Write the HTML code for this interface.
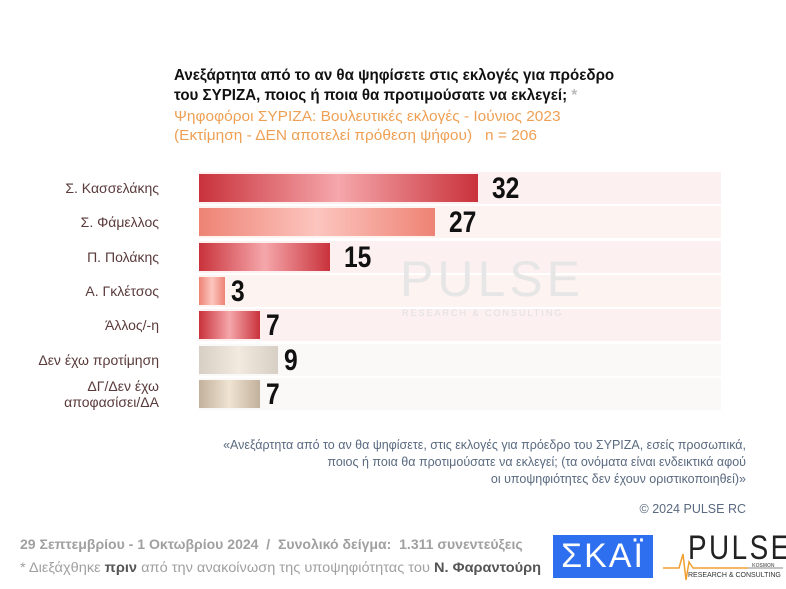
<!DOCTYPE html>
<html><head><meta charset="utf-8">
<style>
body{margin:0;width:786px;height:589px;background:#fff;position:relative;overflow:hidden;font-family:"Liberation Sans","DejaVu Sans",sans-serif}
.a{position:absolute}
.t{left:174px;font-weight:bold;font-size:15.5px;color:#111;line-height:20px;white-space:nowrap;transform:scaleX(.975);transform-origin:left}
.s{left:174px;font-size:15px;color:#eea055;line-height:19px;white-space:nowrap;transform:scaleX(1.03);transform-origin:left}
.row{left:199px;width:522px;height:32px;background:#fdf0f0}
.bar{left:199px;height:28px}
.red{background:linear-gradient(90deg,#c9323b,#f5a7ab 50%,#c9323b)}
.sal{background:linear-gradient(90deg,#ee8374,#fcc5bf 50%,#ee8374)}
.beige{background:linear-gradient(90deg,#d7cfc3,#f2eadf 50%,#d7cfc3)}
.tan{background:linear-gradient(90deg,#c2b19c,#efe3d2 50%,#c2b19c)}
.v{font-weight:bold;font-size:30px;color:#111;line-height:30px;transform:scaleX(.82);transform-origin:left}
.lab{right:627px;font-size:14px;color:#5a3a3a;text-align:right;line-height:16px}
.q{right:40px;font-size:12.5px;color:#5a6a80;text-align:right;line-height:17px}
.f{left:20px;font-size:13.5px;color:#a0a0a0;font-weight:bold;white-space:nowrap;transform-origin:left}
</style></head><body>
<div class="a t" style="top:66px">Ανεξάρτητα από το αν θα ψηφίσετε στις εκλογές για πρόεδρο</div>
<div class="a t" style="top:86px">του ΣΥΡΙΖΑ, ποιος ή ποια θα προτιμούσατε να εκλεγεί; <span style="color:#bbb">*</span></div>
<div class="a s" style="top:107px">Ψηφοφόροι ΣΥΡΙΖΑ: Βουλευτικές εκλογές - Ιούνιος 2023</div>
<div class="a s" style="top:126px">(Εκτίμηση - ΔΕΝ αποτελεί πρόθεση ψήφου) &nbsp;&nbsp;n = 206</div>

<div class="a row" style="top:172px"></div>
<div class="a row" style="top:206px;background:#fdf3f1"></div>
<div class="a row" style="top:241px"></div>
<div class="a row" style="top:275px;background:#fdf3f1"></div>
<div class="a row" style="top:309px"></div>
<div class="a row" style="top:344px;background:#fbf8f8"></div>
<div class="a row" style="top:378px;background:#fbf8f8"></div>

<div class="a" style="left:400px;top:250px;font-size:50px;color:#e6e6e6;letter-spacing:4px">PULSE</div>
<div class="a" style="left:402px;top:308px;font-size:9px;color:#e0e0e0;letter-spacing:2px">RESEARCH &amp; CONSULTING</div>

<div class="a bar red" style="top:174px;width:279px"></div><div class="a v" style="left:492px;top:174px">32</div>
<div class="a bar sal" style="top:208px;width:236px"></div><div class="a v" style="left:449px;top:208px">27</div>
<div class="a bar red" style="top:243px;width:131px"></div><div class="a v" style="left:344px;top:243px">15</div>
<div class="a bar sal" style="top:277px;width:26px"></div><div class="a v" style="left:231px;top:277px">3</div>
<div class="a bar red" style="top:311px;width:61px"></div><div class="a v" style="left:266px;top:311px">7</div>
<div class="a bar beige" style="top:346px;width:79px"></div><div class="a v" style="left:284px;top:346px">9</div>
<div class="a bar tan" style="top:380px;width:61px"></div><div class="a v" style="left:266px;top:380px">7</div>

<div class="a lab" style="top:180px">Σ. Κασσελάκης</div>
<div class="a lab" style="top:214px">Σ. Φάμελλος</div>
<div class="a lab" style="top:249px">Π. Πολάκης</div>
<div class="a lab" style="top:283px">Α. Γκλέτσος</div>
<div class="a lab" style="top:317px">Άλλος/-η</div>
<div class="a lab" style="top:352px">Δεν έχω προτίμηση</div>
<div class="a lab" style="top:378px">ΔΓ/Δεν έχω<br>αποφασίσει/ΔΑ</div>

<div class="a q" style="top:437px">«Ανεξάρτητα από το αν θα ψηφίσετε, στις εκλογές για πρόεδρο του ΣΥΡΙΖΑ, εσείς προσωπικά,<br>ποιος ή ποια θα προτιμούσατε να εκλεγεί; (τα ονόματα είναι ενδεικτικά αφού<br>οι υποψηφιότητες δεν έχουν οριστικοποιηθεί)»</div>
<div class="a" style="right:40px;top:502px;font-size:12.5px;color:#5a6a80">© 2024 PULSE RC</div>

<div class="a f" style="top:537px;transform:scaleX(1.04)">29 Σεπτεμβρίου - 1 Οκτωβρίου 2024 &nbsp;/ &nbsp;Συνολικό δείγμα: &nbsp;1.311 συνεντεύξεις</div>
<div class="a f" style="top:560px;font-weight:normal;transform:scaleX(1.08)">* Διεξάχθηκε <b style="color:#555">πριν</b> από την ανακοίνωση της υποψηφιότητας του <b style="color:#555">Ν. Φαραντούρη</b></div>

<div class="a" style="left:553px;top:535px;width:100px;height:43px;background:#2e6ff0;color:#fff;font-size:34px;line-height:43px;text-align:center;letter-spacing:2px">ΣΚΑΪ</div>
<div class="a" style="left:688px;top:531px;font-size:34px;color:#222;letter-spacing:3px;line-height:34px;font-weight:normal;transform:scaleX(.82);transform-origin:left">PULSE</div>
<div class="a" style="left:752px;top:563px;font-size:5px;color:#777;font-weight:bold">KOSMON</div>
<div class="a" style="left:688px;top:572px;font-size:7px;color:#333;white-space:nowrap">RESEARCH &amp; CONSULTING</div>
<svg class="a" style="left:663px;top:540px" width="122" height="45"><polyline points="0,28 16,28 20,14 23,40 26,22 30,28 85,28" fill="none" stroke="#f0a030" stroke-width="1.5"/><line x1="85" y1="28" x2="120" y2="28" stroke="#888" stroke-width="1"/></svg>
</body></html>
